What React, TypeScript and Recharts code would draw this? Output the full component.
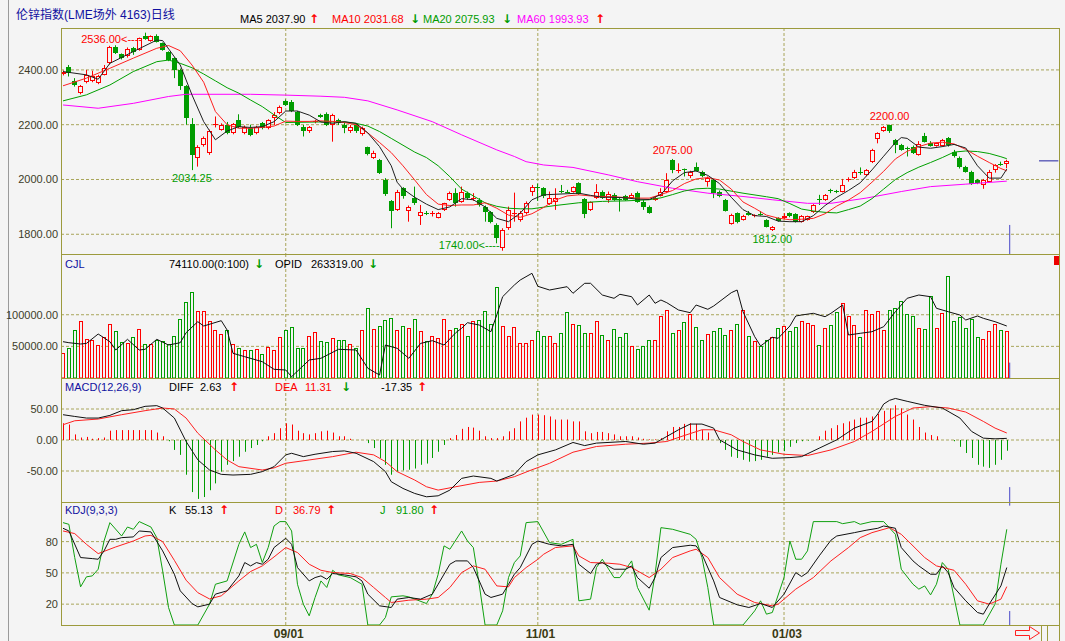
import React from 'react';
import {
  ComposedChart,
  Bar,
  Line,
  XAxis,
  YAxis,
  CartesianGrid,
  ReferenceLine,
  ReferenceDot
} from 'recharts';

const BG = '#f4f4f4';
const FRAME = '#9c9a3c';
const GRID = '#a8a55a';
const RED = '#ff0000';
const GREEN = '#009c00';
const LABEL = '#3c3c28';
const BLUE = '#1010a0';
const CURSOR = '#4848c8';
const FONT = '"Liberation Sans", Arial, "Noto Sans CJK SC", sans-serif';

// daily candles
const open = [
  2384, 2412, 2360, 2317, 2357, 2360, 2351, 2382, 2424, 2485,
  2457, 2449, 2481, 2473, 2522, 2506, 2522, 2497, 2464, 2442,
  2400, 2340, 2202, 2078, 2126, 2096, 2198, 2181, 2199, 2169,
  2217, 2169, 2187, 2169, 2205, 2187, 2224, 2242, 2287, 2284,
  2246, 2193, 2177, 2211, 2236, 2240, 2199, 2218, 2199, 2177,
  2199, 2165, 2117, 2080, 2072, 1999, 1920, 1889, 1968, 1885,
  1932, 1865, 1879, 1875, 1861, 1889, 1926, 1950, 1919, 1950,
  1928, 1926, 1901, 1881, 1834, 1750, 1822, 1876, 1853, 1877,
  1956, 1972, 1968, 1910, 1919, 1958, 1956, 1956, 1986, 1929,
  1888, 1932, 1956, 1926, 1944, 1928, 1941, 1934, 1950, 1919,
  1901, 1926, 1941, 1956, 2072, 2032, 2038, 2011, 2044, 2029,
  1992, 1999, 1956, 1926, 1837, 1877, 1853, 1877, 1867, 1874,
  1853, 1816, 1859, 1859, 1877, 1875, 1846, 1853, 1881, 1928,
  1926, 1962, 1958, 1956, 1998, 2007, 2027, 2017, 2063, 2148,
  2177, 2198, 2145, 2126, 2116, 2120, 2090, 2157, 2132, 2124,
  2124, 2151, 2102, 2080, 2047, 2029, 1999, 1980, 1992, 2035,
  2058, 2056
];
const high = [
  2398, 2418, 2370, 2345, 2400, 2397, 2382, 2418, 2488, 2490,
  2460, 2482, 2484, 2518, 2536, 2526, 2530, 2500, 2468, 2446,
  2405, 2345, 2224, 2125, 2157, 2182, 2230, 2205, 2210, 2206,
  2238, 2197, 2200, 2196, 2210, 2220, 2246, 2270, 2292, 2290,
  2250, 2199, 2195, 2218, 2240, 2245, 2240, 2222, 2211, 2199,
  2205, 2193, 2120, 2105, 2075, 2005, 1925, 1962, 1972, 1905,
  1974, 1907, 1885, 1885, 1881, 1915, 1956, 1968, 1974, 1956,
  1950, 1932, 1905, 1885, 1840, 1822, 1901, 1952, 1885, 1920,
  1980, 1985, 1972, 1956, 1968, 1980, 1962, 1975, 1990, 1932,
  1920, 1983, 1960, 1956, 1950, 1932, 1944, 1950, 1956, 1925,
  1905, 1938, 1968, 2023, 2075, 2059, 2040, 2032, 2062, 2032,
  2011, 2002, 1960, 1929, 1875, 1880, 1871, 1885, 1873, 1885,
  1855, 1830, 1862, 1877, 1880, 1877, 1870, 1868, 1910, 1944,
  1947, 1966, 1962, 2002, 2008, 2035, 2044, 2038, 2112, 2172,
  2195, 2200, 2148, 2130, 2120, 2124, 2140, 2170, 2140, 2135,
  2148, 2155, 2108, 2084, 2050, 2032, 2002, 2002, 2035, 2056,
  2065, 2072
];
const low = [
  2380, 2376, 2339, 2311, 2351, 2355, 2348, 2380, 2420, 2458,
  2438, 2445, 2455, 2470, 2510, 2503, 2500, 2470, 2432, 2370,
  2327, 2200, 2034.25, 2047, 2120, 2090, 2190, 2178, 2165, 2165,
  2188, 2165, 2158, 2165, 2183, 2183, 2199, 2238, 2268, 2246,
  2195, 2157, 2170, 2205, 2225, 2195, 2138, 2199, 2169, 2170,
  2170, 2160, 2088, 2075, 2020, 1940, 1822, 1885, 1930, 1846,
  1907, 1834, 1870, 1865, 1858, 1885, 1922, 1901, 1915, 1926,
  1922, 1901, 1846, 1840, 1767, 1740, 1816, 1846, 1846, 1872,
  1940, 1922, 1932, 1907, 1889, 1950, 1950, 1952, 1944, 1859,
  1885, 1929, 1929, 1915, 1922, 1883, 1922, 1930, 1915, 1889,
  1875, 1922, 1938, 1950, 2023, 2023, 2011, 2005, 2029, 2008,
  1974, 1932, 1935, 1883, 1835, 1840, 1850, 1868, 1862, 1868,
  1825, 1812, 1846, 1855, 1862, 1843, 1843, 1850, 1878, 1907,
  1922, 1950, 1950, 1953, 1992, 2002, 2017, 2012, 2060, 2132,
  2174, 2170, 2096, 2105, 2084, 2093, 2087, 2135, 2120, 2120,
  2120, 2120, 2080, 2040, 2025, 1980, 1983, 1966, 1990, 2025,
  2050, 2041
];
const close = [
  2394, 2388, 2345, 2342, 2382, 2379, 2379, 2408, 2485, 2461,
  2443, 2477, 2464, 2515, 2513, 2522, 2503, 2473, 2436, 2400,
  2340, 2224, 2090, 2120, 2150, 2178, 2202, 2199, 2169, 2202,
  2193, 2193, 2163, 2190, 2187, 2217, 2236, 2266, 2272, 2250,
  2199, 2177, 2190, 2213, 2228, 2199, 2236, 2205, 2187, 2193,
  2177, 2187, 2092, 2097, 2023, 1946, 1885, 1956, 1938, 1901,
  1913, 1881, 1876, 1878, 1877, 1913, 1950, 1913, 1956, 1932,
  1932, 1907, 1881, 1846, 1786, 1816, 1889, 1878, 1877, 1913,
  1974, 1968, 1938, 1932, 1932, 1954, 1954, 1971, 1946, 1873,
  1917, 1956, 1932, 1946, 1926, 1926, 1926, 1944, 1919, 1901,
  1877, 1934, 1956, 1999, 2035, 2034, 2036, 2029, 2032, 2011,
  2005, 1950, 1938, 1885, 1871, 1846, 1868, 1872, 1869, 1872,
  1828, 1828, 1850, 1867, 1865, 1846, 1865, 1865, 1907, 1925,
  1944, 1959, 1955, 1980, 2000, 2029, 2024, 2035, 2108, 2169,
  2190, 2177, 2126, 2108, 2113, 2096, 2129, 2138, 2124, 2132,
  2145, 2126, 2084, 2044, 2029, 1983, 1986, 1999, 2029, 2053,
  2056, 2068
];
const volume = [
  39500, 47400, 76300, 90600, 61600, 60500, 51600, 64700, 85900, 74200,
  57400, 55300, 64700, 77400, 53700, 53700, 60500, 57900, 54200, 66900,
  93700, 119400, 135700, 105300, 105300, 89500, 76300, 70000, 76300, 53700,
  47400, 44800, 43700, 45800, 37900, 48500, 44800, 64700, 76300, 80600,
  47400, 47400, 66900, 73200, 58900, 57400, 63200, 60500, 59500, 54200,
  47400, 76300, 111100, 77900, 82700, 92100, 94700, 76300, 82700, 79000,
  93200, 73700, 57900, 66900, 63200, 93200, 76300, 79000, 85900, 66900,
  89500, 92100, 105300, 85900, 143600, 81600, 66900, 80600, 55300, 55300,
  60500, 74700, 66900, 66900, 55300, 71100, 103700, 85900, 84200, 71100,
  71100, 89500, 68400, 60500, 77400, 64700, 71100, 50000, 46300, 51000,
  59500, 59500, 97400, 106900, 71100, 76300, 89000, 101000, 80600, 60500,
  69500, 74200, 79500, 68000, 76300, 85900, 107900, 65800, 57900, 51000,
  59500, 64700, 79000, 82700, 74700, 80600, 90600, 87000, 83800, 52300,
  79000, 83800, 103700, 117900, 97400, 84200, 64700, 107900, 101600, 106400,
  76300, 106900, 111100, 121100, 101600, 98500, 78500, 77400, 130000, 79500,
  102600, 162000, 90600, 96400, 79500, 93200, 64700, 61600, 74700, 85900,
  76300, 74110
];
// open interest (thousands), sampled [day, value]
const opid: [number, number][] = [
  [0, 247.6], [1, 246.6], [3, 245.3], [4, 245.9], [6, 255.3], [8, 247.6], [9, 239.3], [11, 250],
  [13, 239.3], [14, 240], [16, 250], [18, 244.3], [20, 246.6], [21, 256.6], [23, 267.6], [24, 263.3],
  [27, 268.6], [28, 259.3], [29, 236], [31, 232.6], [34, 227.6], [36, 220], [38, 219.3], [39, 212.6],
  [42, 229.3], [44, 231], [47, 240], [50, 239.3], [52, 221], [54, 214.3], [55, 244.3], [57, 241],
  [59, 231], [61, 245.9], [63, 248.6], [65, 244.3], [67, 256.6], [68, 261], [69, 266.6], [71, 264.3],
  [73, 257.6], [74, 274.3], [75, 292.6], [77, 304.3], [78, 309.3], [80, 316], [81, 303], [83, 299.3],
  [86, 302.6], [87, 296], [89, 306], [90, 306], [92, 294.3], [94, 291], [95, 295], [97, 292.6],
  [98, 284.3], [100, 294.3], [101, 286], [102, 289.3], [103, 286.6], [105, 279.3], [107, 276.6],
  [108, 284.3], [110, 280], [111, 283.3], [114, 296.6], [115, 299.3], [116, 277.6], [118, 252.6],
  [119, 243.3], [121, 252], [122, 251], [124, 263.3], [125, 273.3], [126, 274.3], [128, 276],
  [130, 272.6], [131, 276], [133, 284.3], [134, 254.3], [136, 256], [138, 257.6], [140, 262.6],
  [142, 277.6], [144, 291], [146, 294.3], [148, 292.6], [149, 281], [151, 277.6], [153, 274.3],
  [154, 269.3], [156, 273.3], [157, 271], [159, 267.6], [161, 263.3]
];

// moving averages, sampled [day, value]
const ma5: [number, number][] = [
  [0, 2394], [4, 2382], [6, 2366], [8, 2424], [12, 2467], [16, 2509], [17, 2507], [20, 2418],
  [22, 2309], [24, 2211], [26, 2145], [28, 2177], [30, 2193], [32, 2190], [34, 2193], [36, 2211],
  [38, 2250], [40, 2250], [42, 2235], [44, 2210], [46, 2205], [48, 2211], [50, 2205], [52, 2170],
  [54, 2120], [56, 2050], [57, 1990], [58, 1965], [60, 1935], [62, 1910], [64, 1890], [66, 1900],
  [68, 1930], [70, 1926], [72, 1900], [74, 1858], [76, 1846], [78, 1877], [80, 1926], [82, 1944],
  [84, 1946], [86, 1948], [88, 1950], [90, 1942], [92, 1935], [94, 1935], [96, 1933], [98, 1928],
  [100, 1927], [102, 1945], [104, 1995], [106, 2025], [108, 2031], [110, 2015], [112, 1985],
  [114, 1935], [116, 1890], [118, 1868], [120, 1865], [122, 1848], [124, 1846], [126, 1846],
  [128, 1868], [130, 1905], [132, 1935], [134, 1960], [136, 1988], [138, 2035], [140, 2085],
  [142, 2135], [143, 2153], [144, 2150], [146, 2118], [148, 2114], [150, 2120], [152, 2128],
  [154, 2115], [156, 2050], [158, 2005], [160, 2005], [161, 2037.9]
];
const ma10: [number, number][] = [
  [0, 2342], [4, 2370], [8, 2406], [12, 2443], [16, 2479], [18, 2489], [20, 2470], [22, 2418],
  [24, 2355], [26, 2248], [28, 2200], [30, 2187], [32, 2187], [34, 2190], [36, 2195], [38, 2213],
  [40, 2212], [42, 2212], [44, 2214], [46, 2212], [48, 2208], [50, 2200], [52, 2170], [54, 2135],
  [56, 2098], [58, 2050], [60, 1998], [62, 1945], [64, 1910], [66, 1905], [68, 1907], [70, 1907],
  [72, 1915], [74, 1895], [76, 1870], [78, 1862], [80, 1875], [82, 1898], [84, 1925], [86, 1940],
  [88, 1944], [90, 1940], [92, 1938], [94, 1937], [96, 1934], [98, 1932], [100, 1932], [102, 1945],
  [104, 1960], [106, 1985], [108, 2002], [110, 2007], [112, 1998], [114, 1965], [116, 1918],
  [118, 1895], [120, 1870], [122, 1859], [124, 1853], [126, 1855], [128, 1858], [130, 1875],
  [132, 1903], [134, 1925], [136, 1952], [138, 1990], [140, 2030], [142, 2075], [144, 2103],
  [146, 2120], [148, 2133], [150, 2136], [152, 2130], [154, 2110], [156, 2085], [158, 2062],
  [160, 2040], [161, 2031.68]
];
const ma20: [number, number][] = [
  [0, 2287], [4, 2309], [8, 2345], [12, 2394], [16, 2430], [18, 2436], [20, 2424], [22, 2408],
  [24, 2385], [26, 2360], [28, 2335], [30, 2315], [32, 2290], [34, 2266], [36, 2236], [38, 2208],
  [44, 2210], [48, 2210], [50, 2205], [52, 2195], [54, 2175], [56, 2150], [58, 2125], [60, 2100],
  [62, 2080], [64, 2050], [66, 2010], [68, 1965], [70, 1940], [72, 1915], [74, 1902], [76, 1895],
  [78, 1893], [80, 1893], [82, 1899], [84, 1905], [88, 1915], [92, 1920], [96, 1922], [100, 1926],
  [102, 1933], [104, 1945], [106, 1958], [108, 1966], [110, 1968], [112, 1965], [116, 1950],
  [120, 1937], [122, 1930], [124, 1912], [126, 1892], [128, 1885], [130, 1880], [132, 1878],
  [134, 1890], [136, 1903], [138, 1930], [140, 1965], [142, 2000], [144, 2025], [146, 2045],
  [148, 2062], [150, 2080], [152, 2100], [154, 2104], [156, 2102], [158, 2095], [160, 2083],
  [161, 2075.93]
];
const ma60: [number, number][] = [
  [0, 2272], [6, 2260], [12, 2278], [18, 2303], [21, 2311], [32, 2311], [38, 2308], [44, 2304],
  [48, 2300], [52, 2287], [57, 2254], [63, 2211], [68, 2163], [74, 2108], [77, 2084], [79, 2065],
  [82, 2053], [87, 2044], [93, 2017], [98, 1992], [104, 1968], [110, 1950], [116, 1938],
  [121, 1926], [127, 1913], [131, 1913], [137, 1932], [143, 1956], [148, 1974], [154, 1983],
  [161, 1993.93]
];

// MACD(12,26,9)
const diff: [number, number][] = [
  [0, 40.8], [2, 38], [4, 35.4], [6, 35.4], [8, 39.7], [10, 47.3], [12, 48.9], [14, 54.3],
  [16, 55.4], [17, 51.6], [19, 35.4], [21, -2.4], [23, -32], [25, -48.4], [27, -55.4], [29, -56.5],
  [32, -55.4], [34, -51], [36, -43], [38, -24], [39, -21.4], [41, -26.8], [43, -23], [46, -18.6],
  [48, -17.6], [50, -21.4], [53, -34.9], [55, -51], [56, -67.3], [58, -78.1], [60, -86.2],
  [62, -91.6], [64, -90], [66, -80.8], [68, -61.9], [70, -58.1], [73, -61.9], [74, -66.2],
  [77, -55.4], [79, -34.9], [81, -24], [84, -16], [87, -4], [89, -9], [91, -5], [96, -2.4],
  [99, -6.8], [101, -5], [103, 5.7], [105, 16.5], [107, 25.7], [109, 25.7], [111, 19.2], [112, 0.3],
  [115, -16], [118, -24], [121, -29.5], [124, -28.4], [126, -26.8], [129, -13.2], [132, 0.3],
  [135, 19.2], [138, 30], [139, 42], [140, 58], [141, 64], [142, 67], [144, 62.4], [147, 55.9],
  [150, 51.6], [153, 35.4], [155, 13.8], [157, 3], [159, 1.9], [161, 2.63]
];
const dea: [number, number][] = [
  [0, 24.6], [2, 31], [6, 33.8], [10, 40.8], [14, 47.3], [17, 51.6], [19, 50], [21, 35.4], [23, 11],
  [26, -16], [28, -32.2], [30, -43], [34, -48.4], [36, -45], [38, -37.5], [42, -32.2], [46, -26.8],
  [50, -19.7], [53, -24], [55, -34.9], [57, -51], [60, -64.6], [62, -75.4], [64, -80.8], [67, -75.4],
  [71, -68.4], [74, -66.2], [77, -59.2], [80, -48], [83, -37.6], [87, -19.7], [91, -10.5], [96, -6.8],
  [100, -5], [103, -2.4], [106, 7.3], [109, 16.5], [111, 16.5], [114, 8.4], [116, -2.4], [119, -16],
  [123, -23], [127, -25.1], [131, -16], [135, -2.4], [138, 13.8], [142, 38.1], [145, 51.6],
  [148, 53.8], [151, 51.6], [154, 45.1], [157, 30], [159, 19.2], [161, 11.31]
];
const macd = [
  27, 25, 9, 4, 5, 2, 3, 4, 15, 16,
  16, 16, 16, 16, 16, 16, 12, 6, -2, -16,
  -24, -56, -84, -95, -92, -81, -70, -51, -40, -34,
  -27, -19, -13, -8, -2, 6, 11, 19, 27, 25,
  15, 11, 9, 11, 14, 15, 12, 6, 6, 2,
  0, 0, -5, -13, -29, -40, -56, -51, -49, -48,
  -46, -40, -38, -29, -19, -8, 3, 8, 18, 21,
  20, 15, 6, 3, 3, 6, 14, 19, 30, 36,
  41, 41, 40, 38, 33, 33, 33, 30, 30, 14,
  11, 13, 13, 11, 9, 6, 6, 6, 4, 2,
  1, 1, 3, 14, 21, 21, 26, 27, 26, 16,
  12, 0, -5, -16, -27, -29, -32, -35, -34, -32,
  -27, -24, -20, -18, -11, -5, -2, -1, 0, 6,
  15, 19, 24, 27, 30, 33, 36, 36, 38, 42,
  47, 51, 56, 51, 41, 33, 21, 12, 8, 6,
  0, 0, -2, -11, -21, -29, -40, -43, -45, -40,
  -32, -17.35
];

// KDJ(9,3,3)
const kLine: [number, number][] = [
  [0, 92.8], [1, 90.2], [3, 64.7], [5, 63.7], [6, 63.1], [7, 71.1], [8, 82.2], [9, 82.2], [10, 83.8],
  [12, 84.5], [13, 90.2], [15, 89.3], [17, 71.1], [19, 48.7], [20, 32.8], [22, 20.6], [23, 17.4],
  [25, 20], [26, 29.6], [28, 32.8], [30, 47.1], [31, 59.9], [32, 56.7], [33, 59.9], [34, 58.3],
  [35, 63.1], [36, 74.3], [38, 83.2], [39, 77.4], [40, 55.1], [42, 42.3], [43, 45.5], [44, 47.1],
  [45, 43.9], [46, 49.4], [48, 48.1], [50, 46.2], [51, 42.3], [52, 29.6], [54, 18.4], [56, 16.8],
  [57, 24.8], [59, 26.4], [61, 24.8], [63, 29.6], [64, 39.1], [66, 58.3], [67, 61.5], [69, 61.5],
  [70, 55.1], [72, 29.6], [73, 26.4], [75, 29.6], [76, 39.1], [77, 48.7], [78, 55.1], [80, 77.4],
  [81, 80.6], [83, 77.4], [85, 75.9], [87, 77.4], [88, 58.3], [90, 49.4], [91, 58.3], [92, 59.9],
  [94, 53.5], [96, 53.5], [97, 56.7], [98, 45.5], [100, 35.3], [101, 45.5], [102, 64.7], [104, 74.3],
  [107, 76.5], [108, 75.9], [109, 67.9], [111, 42.3], [112, 26.4], [115, 19.4], [117, 16.8],
  [119, 20.6], [121, 16.8], [123, 29.6], [125, 50.3], [126, 46.5], [127, 50.3], [129, 66.3],
  [131, 81.3], [132, 85.4], [135, 88.6], [137, 90.9], [139, 92.8], [140, 95], [142, 92.8],
  [143, 74.3], [145, 61.5], [146, 56.7], [148, 48.7], [149, 48.7], [150, 56.7], [151, 50.3],
  [152, 36], [154, 23.2], [156, 12], [157, 10.4], [158, 20], [160, 37.5], [161, 55.13]
];
const dLine: [number, number][] = [
  [0, 90.2], [2, 87.7], [4, 77.4], [6, 68.5], [9, 74.9], [12, 80.6], [14, 85.4], [15, 86], [17, 80],
  [19, 62], [21, 43], [23, 31], [25, 25], [27, 28], [30, 42.3], [32, 51.3], [34, 56.7], [36, 65.3],
  [38, 74.3], [40, 69.5], [42, 58.3], [44, 52.5], [46, 50.3], [49, 49.4], [51, 45.5], [53, 36],
  [55, 26.4], [56, 21.6], [59, 23.8], [62, 24.8], [64, 26.4], [66, 36], [68, 50.3], [70, 56.7],
  [72, 53.5], [74, 37.5], [76, 36.6], [77, 45.5], [79, 55.1], [81, 63], [82, 67.9], [84, 74.3],
  [87, 75.9], [88, 66.3], [90, 59.9], [93, 59.3], [95, 58.3], [97, 55.1], [100, 45.5], [102, 53.5],
  [104, 64.7], [107, 71.1], [108, 72.7], [110, 64.7], [112, 45.5], [115, 29.6], [118, 21.6],
  [121, 18.4], [122, 20], [125, 34.4], [128, 45.5], [131, 61.5], [134, 74.3], [136, 83.8],
  [138, 88.6], [141, 93.4], [143, 87], [145, 75.9], [147, 64.7], [149, 56.7], [152, 52.5],
  [154, 39.1], [156, 23.2], [158, 20], [160, 24.8], [161, 36.79]
];
const jLine: [number, number][] = [
  [0, 98.2], [1, 96.6], [2, 64.7], [3, 36.6], [4, 46.2], [5, 47.1], [6, 53.5], [7, 80.6], [8, 98.2],
  [10, 85.4], [11, 94], [12, 91.8], [13, 99.2], [15, 94], [16, 83.8], [17, 51.9], [18, 16.8], [19, 0],
  [23, 0], [25, 20], [26, 39.1], [28, 42.3], [30, 77.4], [31, 89.3], [32, 74.3], [33, 77.4],
  [34, 59.9], [35, 74.3], [36, 95], [37, 99.2], [38, 99.2], [39, 90.2], [40, 39.1], [41, 20],
  [42, 8.8], [43, 26.4], [44, 42.3], [45, 36], [46, 52.5], [47, 48.1], [49, 45.5], [51, 39.1],
  [52, 0], [54, 0], [55, 7.2], [56, 27], [58, 28], [59, 27], [62, 20.6], [63, 29.6], [64, 48.7],
  [65, 75.9], [66, 72.7], [68, 90.2], [69, 80.6], [70, 74.3], [71, 39.1], [72, 0], [74, 0],
  [75, 13.6], [76, 45.5], [77, 59.9], [78, 66.3], [79, 98.2], [81, 99.2], [83, 79], [85, 77.4],
  [87, 82.2], [88, 23.2], [90, 24.8], [91, 55.1], [92, 63.1], [94, 45.5], [95, 45.5], [97, 61.5],
  [98, 36], [100, 14.2], [101, 48.7], [102, 93.4], [104, 91.8], [107, 87], [108, 82.2], [109, 64.7],
  [110, 36], [111, 0], [116, 0], [118, 13.6], [119, 23.2], [120, 10.4], [121, 12], [123, 45.5],
  [124, 80.6], [125, 63.1], [126, 63.1], [127, 71.1], [128, 99.2], [132, 99.2], [133, 97.2],
  [135, 99.2], [136, 96.6], [138, 99.2], [140, 99.2], [142, 87], [143, 53.5], [145, 39.1],
  [146, 34.4], [147, 37.5], [148, 28.9], [149, 39.1], [150, 59.9], [151, 53.5], [153, 0], [157, 0],
  [159, 20], [160, 58.3], [161, 91.8]
];

const dateTicks = [38, 81, 123];
const dateLabels = ['09/01', '11/01', '01/03'];
const markHigh = [14, 104, 141];
const markLow = [22, 75, 121];
const lastDay = 161.5;

// layout: first candle at x=63, 5.862px per day, plot from x=61 to x=1059
const X_DOMAIN: [number, number] = [(61 - 63) / 5.862, (1059 - 63) / 5.862];

const lookup = (pairs: [number, number][]) => {
  const m = new Map<number, number>(pairs);
  return (i: number) => (m.has(i) ? (m.get(i) as number) : null);
};
const f5 = lookup(ma5), f10 = lookup(ma10), f20 = lookup(ma20), f60 = lookup(ma60);
const fOp = lookup(opid), fDiff = lookup(diff), fDea = lookup(dea);
const fK = lookup(kLine), fD = lookup(dLine), fJ = lookup(jLine);

const days = close.map((_, i) => i);
const mainData = days.map((i) => ({
  i, o: open[i], h: high[i], l: low[i], c: close[i], hl: [low[i], high[i]],
  ma5: f5(i), ma10: f10(i), ma20: f20(i), ma60: f60(i)
}));
const volData = days.map((i) => ({ i, vol: volume[i], up: close[i] >= open[i], opid: fOp(i) }));
const macdData = days.map((i) => ({ i, macd: macd[i], diff: fDiff(i), dea: fDea(i) }));
const kdjData = days.map((i) => ({ i, k: fK(i), d: fD(i), j: fJ(i) }));

const yTick = { fontSize: 11, fill: LABEL, fontFamily: FONT };

function Candle(props: any) {
  const { x, y, width, height, payload } = props;
  if (!payload || !isFinite(y) || !isFinite(height)) return null;
  const { o, h, l, c } = payload;
  const yH = Math.min(y, y + height);
  const yL = Math.max(y, y + height);
  const py = (v: number) => yH + ((h - v) / (h - l)) * (yL - yH);
  const cx = Math.round(x + width / 2);
  const lx = cx + 0.5;
  const up = c >= o;
  const col = up ? RED : GREEN;
  const t = Math.round(py(Math.max(o, c)));
  const b = Math.round(py(Math.min(o, c)));
  if (b - t <= 1) {
    return (
      <g>
        <line x1={lx} x2={lx} y1={yH} y2={yL} stroke={col} />
        <line x1={cx - 2} x2={cx + 3} y1={t + 0.5} y2={t + 0.5} stroke={col} />
      </g>
    );
  }
  if (up) {
    return (
      <g>
        <line x1={lx} x2={lx} y1={yH} y2={t} stroke={col} />
        <line x1={lx} x2={lx} y1={b} y2={yL} stroke={col} />
        <rect x={cx - 1.5} y={t + 0.5} width={4} height={b - t - 1} fill={BG} stroke={col} />
      </g>
    );
  }
  return (
    <g>
      <line x1={lx} x2={lx} y1={yH} y2={yL} stroke={col} />
      <rect x={cx - 2} y={t} width={5} height={b - t} fill={col} />
    </g>
  );
}

function VolBar(props: any) {
  const { x, y, width, height, payload } = props;
  if (!payload || !isFinite(y)) return null;
  const cx = Math.round(x + width / 2);
  const top = Math.round(Math.min(y, y + height));
  const bot = Math.round(Math.max(y, y + height));
  const col = payload.up ? RED : GREEN;
  return <rect x={cx - 1.5} y={top + 0.5} width={3} height={Math.max(bot - top - 0.5, 0)} fill={BG} stroke={col} />;
}

function MacdBar(props: any) {
  const { x, y, width, height, payload } = props;
  if (!payload || !isFinite(y)) return null;
  const cx = Math.round(x + width / 2) + 0.5;
  return <line x1={cx} x2={cx} y1={y} y2={y + height} stroke={payload.macd >= 0 ? RED : GREEN} />;
}

function DateTick(props: any) {
  const k = dateTicks.indexOf(props.payload.value);
  return (
    <text x={props.x - 12} y={props.y + 13} fontSize={12} fontWeight="bold" fill="#3a3a12" fontFamily={FONT}>
      {dateLabels[k]}
    </text>
  );
}

const globalHigh = markHigh.reduce((a, b) => (high[b] > high[a] ? b : a), markHigh[0]);
const globalLow = markLow.reduce((a, b) => (low[b] < low[a] ? b : a), markLow[0]);

function markShape(i: number, isHigh: boolean) {
  const v = isHigh ? high[i] : low[i];
  const text = v.toFixed(2);
  const col = isHigh ? RED : GREEN;
  const arrow = isHigh ? i === globalHigh : i === globalLow;
  return (p: any) => {
    if (arrow) {
      return (
        <text x={p.cx - 3} y={isHigh ? p.cy + 10 : p.cy - 2} textAnchor="end" fontSize={11} fill={col} fontFamily={FONT}>
          {text + '<----'}
        </text>
      );
    }
    return (
      <text x={p.cx} y={isHigh ? p.cy - 5 : p.cy + 12} textAnchor="middle" fontSize={11} fill={col} fontFamily={FONT}>
        {text}
      </text>
    );
  };
}

const lineProps = {
  type: 'linear' as const,
  dot: false,
  activeDot: false,
  connectNulls: true,
  isAnimationActive: false,
  strokeWidth: 1
};

function Txt({ x, y, c, s = 11, children }: any) {
  return (
    <div
      style={{
        position: 'absolute', left: x, top: y - 8, height: 16, lineHeight: '16px',
        fontSize: s, color: c, whiteSpace: 'nowrap', fontFamily: FONT
      }}
    >
      {children}
    </div>
  );
}

function Arrow({ x, y, up }: { x: number; y: number; up: boolean }) {
  return (
    <div
      style={{
        position: 'absolute', left: x - 1, top: y - 8, height: 16, lineHeight: '16px',
        fontSize: 12, fontWeight: 'bold', color: up ? RED : GREEN, fontFamily: '"DejaVu Sans", sans-serif'
      }}
    >
      {up ? '↑' : '↓'}
    </div>
  );
}

function Frame({ top, height }: { top: number; height: number }) {
  return (
    <div
      style={{
        position: 'absolute', left: 61, top, width: 999, height, boxSizing: 'border-box',
        border: `1px solid ${FRAME}`, pointerEvents: 'none'
      }}
    />
  );
}

const rightTicks = [1760, 1800, 1840, 1880, 1920, 1960, 2000, 2040, 2080, 2120, 2160, 2200, 2240, 2280, 2320, 2360, 2400, 2440, 2480, 2520];

export default function App() {
  return (
    <div style={{ position: 'absolute', left: 0, top: 0, width: 1065, height: 641, background: BG, overflow: 'hidden' }}>
      <div style={{ position: 'absolute', left: 8, top: 0, width: 1, height: 641, background: '#9a9a9a' }} />

      {/* main price panel */}
      <div style={{ position: 'absolute', left: 0, top: 28 }}>
        <ComposedChart width={1065} height={226} data={mainData} margin={{ top: 0, right: 0, bottom: 0, left: 6 }}>
          <CartesianGrid horizontalValues={[1800, 2000, 2200, 2400]} verticalValues={dateTicks} stroke={GRID} strokeDasharray="3 2" />
          <XAxis type="number" dataKey="i" domain={X_DOMAIN} hide allowDataOverflow />
          <YAxis domain={[1728, 2553]} ticks={[1800, 2000, 2200, 2400]} tickFormatter={(v: number) => v.toFixed(2)}
            tick={yTick} axisLine={false} tickLine={false} tickSize={0} tickMargin={3} width={55} allowDataOverflow />
          <YAxis yAxisId="r" orientation="right" domain={[1728, 2553]} ticks={rightTicks} tick={false}
            axisLine={false} tickLine={{ stroke: FRAME }} tickSize={4} width={6} allowDataOverflow />
          <Bar dataKey="hl" shape={Candle} barSize={5} isAnimationActive={false} />
          <Line dataKey="ma60" stroke="#ff00ff" {...lineProps} />
          <Line dataKey="ma20" stroke="#00a000" {...lineProps} />
          <Line dataKey="ma10" stroke="#ff2020" {...lineProps} />
          <Line dataKey="ma5" stroke="#202020" {...lineProps} />
          {markHigh.map((i) => (
            <ReferenceDot key={'h' + i} x={i} y={high[i]} r={0} shape={markShape(i, true)} />
          ))}
          {markLow.map((i) => (
            <ReferenceDot key={'l' + i} x={i} y={low[i]} r={0} shape={markShape(i, false)} />
          ))}
          <ReferenceLine segment={[{ x: lastDay, y: 1728 }, { x: lastDay, y: 1834 }]} stroke={CURSOR} />
          <ReferenceLine segment={[{ x: 166.5, y: close[close.length - 1] }, { x: 169.8, y: close[close.length - 1] }]} stroke="#2020a0" />
        </ComposedChart>
      </div>

      {/* volume panel */}
      <div style={{ position: 'absolute', left: 0, top: 254 }}>
        <ComposedChart width={1065} height={124} data={volData} margin={{ top: 0, right: 6, bottom: 0, left: 6 }}>
          <CartesianGrid horizontalValues={[50000, 100000]} verticalValues={dateTicks} stroke={GRID} strokeDasharray="3 2" />
          <XAxis type="number" dataKey="i" domain={X_DOMAIN} hide allowDataOverflow />
          <YAxis domain={[0, 196000]} ticks={[50000, 100000]} tickFormatter={(v: number) => v.toFixed(2)}
            tick={yTick} axisLine={false} tickLine={false} tickSize={0} tickMargin={3} width={55} allowDataOverflow />
          <YAxis yAxisId="op" hide domain={[211.3, 335.3]} allowDataOverflow />
          <Bar dataKey="vol" shape={VolBar} barSize={4} isAnimationActive={false} />
          <Line yAxisId="op" dataKey="opid" stroke="#101010" {...lineProps} />
          <ReferenceLine segment={[{ x: lastDay, y: 0 }, { x: lastDay, y: 24300 }]} stroke={CURSOR} />
        </ComposedChart>
      </div>

      {/* MACD panel */}
      <div style={{ position: 'absolute', left: 0, top: 378 }}>
        <ComposedChart width={1065} height={124} data={macdData} margin={{ top: 0, right: 6, bottom: 0, left: 6 }}>
          <CartesianGrid horizontalValues={[-50, 0, 50]} verticalValues={dateTicks} stroke={GRID} strokeDasharray="3 2" />
          <XAxis type="number" dataKey="i" domain={X_DOMAIN} hide allowDataOverflow />
          <YAxis domain={[-100, 100]} ticks={[-50, 0, 50]} tickFormatter={(v: number) => v.toFixed(2)}
            tick={yTick} axisLine={false} tickLine={false} tickSize={0} tickMargin={3} width={55} allowDataOverflow />
          <Bar dataKey="macd" shape={MacdBar} barSize={2} isAnimationActive={false} />
          <Line dataKey="dea" stroke="#ff2020" {...lineProps} />
          <Line dataKey="diff" stroke="#101010" {...lineProps} />
          <ReferenceLine segment={[{ x: lastDay, y: -100 }, { x: lastDay, y: -76 }]} stroke={CURSOR} />
        </ComposedChart>
      </div>

      {/* KDJ panel */}
      <div style={{ position: 'absolute', left: 0, top: 502 }}>
        <ComposedChart width={1065} height={139} data={kdjData} margin={{ top: 0, right: 6, bottom: 0, left: 6 }}>
          <CartesianGrid horizontalValues={[20, 50, 80]} verticalValues={dateTicks} stroke={GRID} strokeDasharray="3 2" />
          <XAxis type="number" dataKey="i" domain={X_DOMAIN} ticks={dateTicks} tick={DateTick} axisLine={false}
            tickLine={false} tickSize={0} tickMargin={0} height={16} interval={0} allowDataOverflow />
          <YAxis domain={[0, 118]} ticks={[20, 50, 80]} tick={yTick} axisLine={false} tickLine={false}
            tickSize={0} tickMargin={3} width={55} allowDataOverflow />
          <Line dataKey="j" stroke="#10a010" {...lineProps} />
          <Line dataKey="d" stroke="#ff2020" {...lineProps} />
          <Line dataKey="k" stroke="#101010" {...lineProps} />
          <ReferenceLine segment={[{ x: lastDay, y: 0 }, { x: lastDay, y: 13.4 }]} stroke={CURSOR} />
          <ReferenceLine segment={[{ x: lastDay, y: 114.5 }, { x: lastDay, y: 118 }]} stroke={CURSOR} />
        </ComposedChart>
      </div>

      <Frame top={28} height={227} />
      <Frame top={254} height={125} />
      <Frame top={378} height={125} />
      <Frame top={502} height={124} />
      <div style={{ position: 'absolute', left: 1059, top: 28, width: 1, height: 613, background: FRAME }} />
      <div style={{ position: 'absolute', left: 1054, top: 256, width: 5, height: 9, background: '#ee0000' }} />
      <svg style={{ position: 'absolute', left: 1013, top: 625 }} width={36} height={16}>
        <line x1={28.5} x2={28.5} y1={0} y2={16} stroke={FRAME} />
        <line x1={34.5} x2={34.5} y1={0} y2={16} stroke={FRAME} />
        <polygon points="2.5,5.5 16.5,5.5 16.5,1.5 26.5,8 16.5,14.5 16.5,10.5 2.5,10.5" fill="none" stroke="#ff2020" />
      </svg>

      {/* headers */}
      <Txt x={16} y={15} c={BLUE} s={12}>伦锌指数(LME场外 4163)日线</Txt>
      <Txt x={240} y={19} c="#000">MA5 2037.90</Txt>
      <Arrow x={310} y={19} up />
      <Txt x={332} y={19} c={RED}>MA10 2031.68</Txt>
      <Arrow x={411} y={19} up={false} />
      <Txt x={423} y={19} c={GREEN}>MA20 2075.93</Txt>
      <Arrow x={503} y={19} up={false} />
      <Txt x={517} y={19} c="#ff00ff">MA60 1993.93</Txt>
      <Arrow x={596} y={19} up />

      <Txt x={65} y={264} c={BLUE}>CJL</Txt>
      <Txt x={169} y={264} c="#000">74110.00(0:100)</Txt>
      <Arrow x={255} y={264} up={false} />
      <Txt x={275} y={264} c="#000">OPID</Txt>
      <Txt x={311} y={264} c="#000">263319.00</Txt>
      <Arrow x={369} y={264} up={false} />

      <Txt x={65} y={387} c={BLUE}>MACD(12,26,9)</Txt>
      <Txt x={169} y={387} c="#000">DIFF</Txt>
      <Txt x={200} y={387} c="#000">2.63</Txt>
      <Arrow x={230} y={387} up />
      <Txt x={275} y={387} c={RED}>DEA</Txt>
      <Txt x={305} y={387} c={RED}>11.31</Txt>
      <Arrow x={342} y={387} up={false} />
      <Txt x={381} y={387} c="#000">-17.35</Txt>
      <Arrow x={418} y={387} up />

      <Txt x={65} y={510} c={BLUE}>KDJ(9,3,3)</Txt>
      <Txt x={169} y={510} c="#000">K</Txt>
      <Txt x={185} y={510} c="#000">55.13</Txt>
      <Arrow x={220} y={510} up />
      <Txt x={275} y={510} c={RED}>D</Txt>
      <Txt x={293} y={510} c={RED}>36.79</Txt>
      <Arrow x={327} y={510} up />
      <Txt x={380} y={510} c={GREEN}>J</Txt>
      <Txt x={396} y={510} c={GREEN}>91.80</Txt>
      <Arrow x={430} y={510} up />
    </div>
  );
}
